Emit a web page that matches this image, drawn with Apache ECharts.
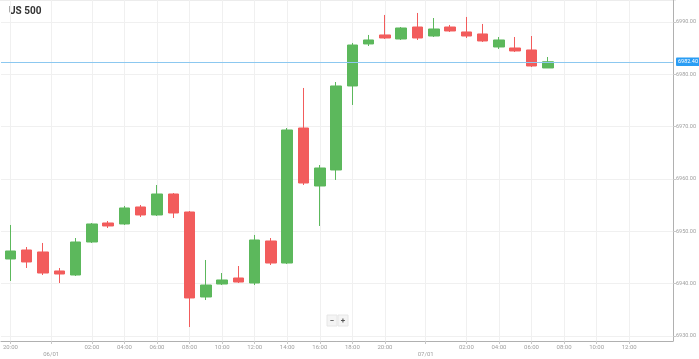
<!DOCTYPE html>
<html><head><meta charset="utf-8">
<script src="https://cdn.jsdelivr.net/npm/echarts@6/dist/echarts.min.js"></script>
<style>html,body{margin:0;padding:0;background:#fff}#c{width:699px;height:359px}</style>
</head><body><div id="c"></div>
<script>
const times = ['20:00','22:00','23:00','00:00','01:00','02:00','03:00','04:00','05:00','06:00','07:00','08:00','09:00','10:00','11:00','12:00','13:00','14:00','15:00','16:00','17:00','18:00','19:00','20:00','22:00','23:00','00:00','01:00','02:00','03:00','04:00','05:00','06:00','07:00'];
const openV  = [6944.71,6946.43,6946.05,6942.42,6941.65,6947.96,6951.59,6951.40,6954.65,6953.12,6957.13,6953.69,6937.45,6939.93,6941.08,6940.12,6948.15,6943.94,6969.74,6958.66,6961.72,6977.77,6985.80,6987.52,6986.75,6989.04,6987.32,6989.04,6988.09,6987.71,6985.22,6985.03,6984.65,6981.21];
const closeV = [6946.24,6944.14,6942.03,6941.84,6947.96,6951.40,6951.02,6954.46,6953.12,6957.13,6953.50,6937.26,6939.74,6940.70,6940.31,6948.34,6943.94,6969.36,6959.23,6962.10,6977.77,6985.60,6986.56,6986.94,6988.85,6986.94,6988.66,6988.28,6987.32,6986.37,6986.56,6984.46,6981.59,6982.40];
const lowV   = [6940.51,6942.99,6941.65,6940.12,6941.46,6947.77,6950.63,6951.21,6952.74,6952.93,6952.54,6931.71,6936.87,6939.74,6940.12,6939.74,6943.56,6943.75,6958.85,6951.02,6959.81,6974.14,6985.41,6986.75,6986.56,6986.56,6987.13,6988.09,6986.94,6986.18,6984.84,6984.27,6981.40,6981.21];
const highV  = [6951.21,6947.00,6947.77,6942.99,6948.72,6951.59,6951.97,6954.84,6955.03,6958.85,6957.32,6953.88,6944.52,6942.03,6943.37,6949.30,6948.72,6969.74,6977.39,6962.67,6978.53,6985.99,6987.52,6991.34,6989.04,6991.72,6990.76,6989.43,6990.96,6989.62,6987.13,6987.13,6987.32,6983.31];
const xTickPos    = [0, 2.5, 5, 7, 9, 11, 13, 15, 17, 19, 21, 23, 25.5, 28, 30, 32, 34, 36, 38];
const xTickLabels = ['20:00','06/01','02:00','04:00','06:00','08:00','10:00','12:00','14:00','16:00','18:00','20:00','07/01','02:00','04:00','06:00','08:00','10:00','12:00'];
const dateLabels = ['06/01','07/01'];
const yTicks = [6930, 6940, 6950, 6960, 6970, 6980, 6990];
const lastPrice = 6982.40;
const title = 'US 500';

const GREEN = '#5cb85c', RED = '#f25c5c';
const chart = echarts.init(document.getElementById('c'), null, {renderer: 'canvas'});
const candles = openV.map((o, i) => [i, o, closeV[i], lowV[i], highV[i]]);

chart.setOption({
  animation: false,
  textStyle: {fontFamily: 'Roboto'},
  grid: {left: 0, right: 23, top: 0, bottom: 18, containLabel: false},
  xAxis: {
    type: 'value', min: -0.58, max: 40.69,
    axisLine: {show: true, onZero: false, lineStyle: {color: '#b0b0b0', width: 1}},
    axisTick: {show: true, customValues: xTickPos, length: 3, lineStyle: {color: '#c8c8c8'}},
    axisLabel: {
      customValues: xTickPos, fontSize: 6, color: '#a0a0a0', margin: 3, lineHeight: 7,
      formatter: v => { const i = xTickPos.indexOf(v); const t = i >= 0 ? xTickLabels[i] : ''; return dateLabels.includes(t) ? '\n' + t : t; }
    },
    splitLine: {show: true, lineStyle: {color: '#f0f0f0', width: 1}}
  },
  yAxis: {
    type: 'value', position: 'right', min: 6929.04, max: 6994.2,
    axisLine: {show: true, onZero: false, lineStyle: {color: '#b0b0b0', width: 1}},
    axisTick: {show: true, customValues: yTicks, length: 3, lineStyle: {color: '#c8c8c8'}},
    axisLabel: {customValues: yTicks, fontSize: 5.5, color: '#a0a0a0', margin: 3, formatter: v => v.toFixed(2)},
    splitLine: {show: true, lineStyle: {color: '#f0f0f0', width: 1}}
  },
  series: [{
    type: 'candlestick',
    data: candles,
    encode: {x: 0, y: [1, 2, 3, 4]},
    barWidth: 11,
    itemStyle: {color: GREEN, color0: RED, borderColor: GREEN, borderColor0: RED, borderWidth: 1},
    markLine: {
      silent: true, symbol: 'none', animation: false,
      lineStyle: {color: '#8cc8f0', width: 1, type: 'solid'},
      label: {position: 'end', distance: 3, formatter: lastPrice.toFixed(2), backgroundColor: '#2a9df4', color: '#fff', fontSize: 5.5, padding: [1.5, 2, 1, 2], borderRadius: 1},
      data: [{yAxis: lastPrice}]
    }
  }],
  graphic: [
    {type: 'line', shape: {x1: 0, y1: 0.5, x2: 676, y2: 0.5}, style: {stroke: '#ececec', lineWidth: 1}, silent: true},
    {type: 'text', left: 9, top: 6, style: {text: title, font: 'bold 10px Roboto', fill: '#333'}},
    {type: 'rect', shape: {x: 327, y: 315, width: 10, height: 11}, style: {fill: '#f4f4f4', stroke: '#e6e6e6'}},
    {type: 'rect', shape: {x: 338, y: 315, width: 10, height: 11}, style: {fill: '#f4f4f4', stroke: '#e6e6e6'}},
    {type: 'text', x: 332, y: 320.5, style: {text: '−', font: 'bold 8px Roboto', fill: '#555', align: 'center', verticalAlign: 'middle'}},
    {type: 'text', x: 343, y: 320.5, style: {text: '+', font: 'bold 8px Roboto', fill: '#555', align: 'center', verticalAlign: 'middle'}}
  ]
});
</script></body></html>
